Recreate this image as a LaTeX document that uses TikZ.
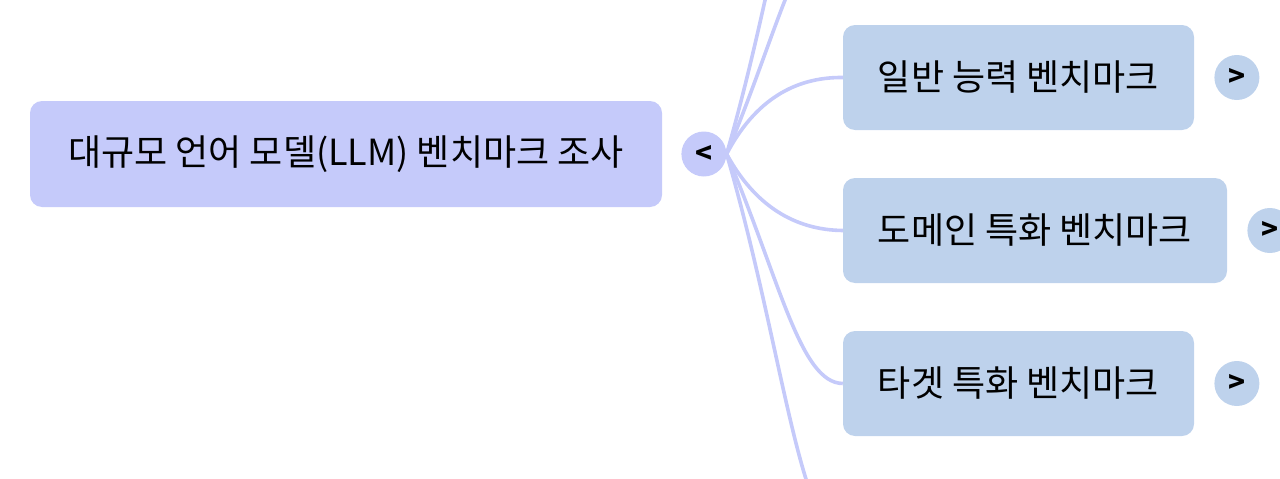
\documentclass[tikz,border=0pt]{standalone}
\usepackage{fontspec}
\usepackage{tikz}
\usetikzlibrary{positioning}
\newfontfamily\krfont{Noto Sans CJK KR}
\definecolor{rootblue}{HTML}{C5CAFA}
\definecolor{kidblue}{HTML}{BED2EC}
\definecolor{linkblue}{HTML}{C5CAFA}

\begin{document}
\begin{tikzpicture}[x=1pt,y=-1pt,
  rootbox/.style={fill=rootblue,rounded corners=12pt,minimum width=632pt,minimum height=106pt,inner sep=0pt,font=\krfont\fontsize{36}{42}\selectfont},
  kidbox/.style={fill=kidblue,rounded corners=12pt,minimum height=105pt,inner sep=0pt,font=\krfont\fontsize{36}{42}\selectfont},
  fold/.style={circle,fill=#1,minimum size=45pt,inner sep=0pt,font=\krfont\bfseries\fontsize{28}{28}\selectfont},
  link/.style={draw=linkblue,line width=3.6pt}]
\useasboundingbox (0,0) rectangle (1280,479);
\clip (0,0) rectangle (1280,479);
\node[rootbox] (root) at (346,154) {대규모 언어 모델(LLM) 벤치마크 조사};
\node[fold=rootblue,right=19pt of root] (col) {<};
\node[kidbox,minimum width=351pt] (gen) at (1018.5,77.5) {일반 능력 벤치마크};
\node[kidbox,minimum width=384pt] (dom) at (1035,230.5) {도메인 특화 벤치마크};
\node[kidbox,minimum width=351pt] (tgt) at (1018.5,383.5) {타겟 특화 벤치마크};
\node[fold=kidblue,right=20pt of gen] (genx) {>};
\node[fold=kidblue,right=20pt of dom] (domx) {>};
\node[fold=kidblue,right=20pt of tgt] (tgtx) {>};
\coordinate (up1) at (843,-76);
\coordinate (up2) at (843,-229);
\coordinate (dn1) at (843,536);
\draw[link] (col.east) .. controls (782,-38) and (800,-229) .. (up2);
\draw[link] (col.east) .. controls (780,26) and (800,-76) .. (up1);
\draw[link] (col.east) .. controls (755,100) and (795,77) .. (gen.west);
\draw[link] (col.east) .. controls (755,206) and (795,230) .. (dom.west);
\draw[link] (col.east) .. controls (780,280) and (800,383) .. (tgt.west);
\draw[link] (col.east) .. controls (782,344) and (800,536) .. (dn1);
\end{tikzpicture}
\end{document}
